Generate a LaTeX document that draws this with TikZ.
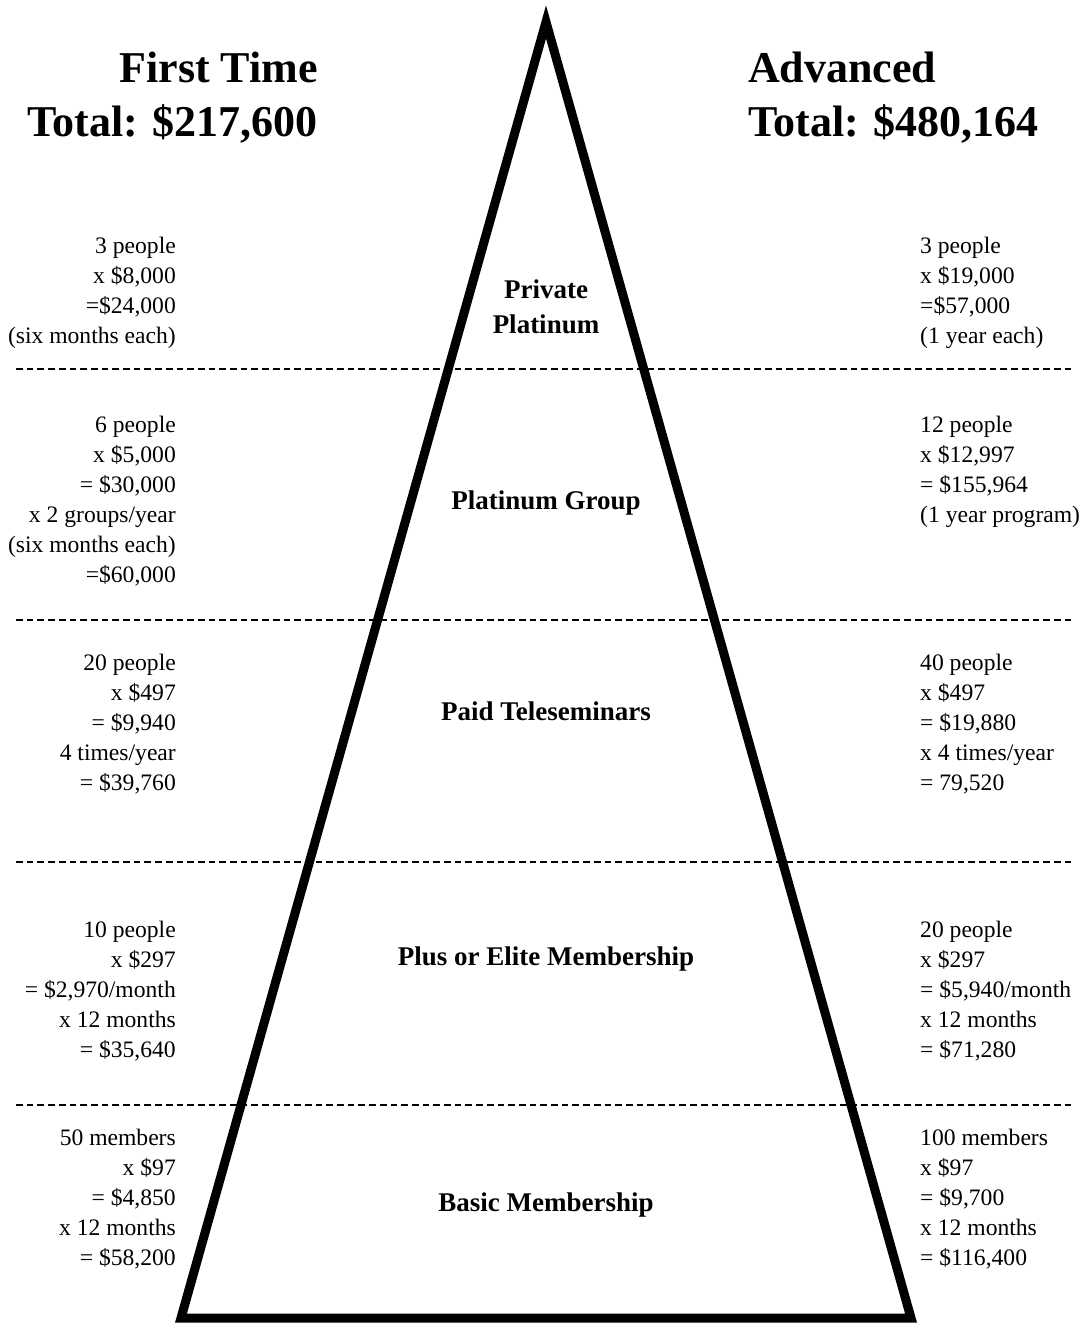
\documentclass[tikz,border=0pt]{standalone}
\usepackage{fontspec}
\setmainfont{Liberation Serif}
\tikzstyle{lefttxt}=[align=right,anchor=base east,inner sep=0,font=\fontsize{23.6}{30}\selectfont]
\tikzstyle{righttxt}=[align=left,anchor=base west,inner sep=0,font=\fontsize{23.6}{30}\selectfont]
\tikzstyle{tier}=[align=center,anchor=base,inner sep=0,font=\fontsize{27}{35}\selectfont\bfseries]
\tikzstyle{title}=[inner sep=0,font=\fontsize{44}{54}\selectfont\bfseries]
\tikzstyle{divider}=[line width=2pt,dash pattern=on 6.7pt off 4pt]
\tikzset{pyramid/.style={line width=9pt,line join=miter}}

\begin{document}
\begin{tikzpicture}[x=1pt,y=-1pt]
\useasboundingbox (0,0) rectangle (1086,1324);

\coordinate (apex) at (546,22);
\coordinate (bl) at (181,1318);
\coordinate (br) at (911,1318);

\coordinate (d1l) at (16,369);
\coordinate (d1r) at (1071,369);
\coordinate (d2l) at (16,620);
\coordinate (d2r) at (1071,620);
\coordinate (d3l) at (16,862);
\coordinate (d3r) at (1071,862);
\coordinate (d4l) at (16,1105);
\coordinate (d4r) at (1071,1105);

\draw[divider] (d1l) -- (d1r);
\draw[divider] (d2l) -- (d2r);
\draw[divider] (d3l) -- (d3r);
\draw[divider] (d4l) -- (d4r);

\draw[pyramid] (apex) -- (br) -- (bl) -- cycle;

% headings (base = last line)
\node[title,align=right,anchor=base east] (first) at (318,137) {First Time\\Total: \$217,600};
\node[title,align=left,anchor=base west] (adv) at (748,137) {Advanced\\Total: \$480,164};

% tiers
\node[tier] (private) at (546,333) {Private\\Platinum};
\node[tier] (group) at (546,509) {Platinum Group};
\node[tier] (tele) at (546,720) {Paid Teleseminars};
\node[tier] (plus) at (546,965) {Plus or Elite Membership};
\node[tier] (basic) at (546,1211) {Basic Membership};

% first time
\node[lefttxt] (f1) at (176,343) {3 people\\x \$8,000\\=\$24,000\\(six months each)};
\node[lefttxt] (f2) at (176,582) {6 people\\x \$5,000\\= \$30,000\\x 2 groups/year\\(six months each)\\=\$60,000};
\node[lefttxt] (f3) at (176,790) {20 people\\x \$497\\= \$9,940\\4 times/year\\= \$39,760};
\node[lefttxt] (f4) at (176,1057) {10 people\\x \$297\\= \$2,970/month\\x 12 months\\= \$35,640};
\node[lefttxt] (f5) at (176,1265) {50 members\\x \$97\\= \$4,850\\x 12 months\\= \$58,200};

% advanced
\node[righttxt] (a1) at (920,343) {3 people\\x \$19,000\\=\$57,000\\(1 year each)};
\node[righttxt] (a2) at (920,522) {12 people\\x \$12,997\\= \$155,964\\(1 year program)};
\node[righttxt] (a3) at (920,790) {40 people\\x \$497\\= \$19,880\\x 4 times/year\\= 79,520};
\node[righttxt] (a4) at (920,1057) {20 people\\x \$297\\= \$5,940/month\\x 12 months\\= \$71,280};
\node[righttxt] (a5) at (920,1265) {100 members\\x \$97\\= \$9,700\\x 12 months\\= \$116,400};

\end{tikzpicture}
\end{document}
